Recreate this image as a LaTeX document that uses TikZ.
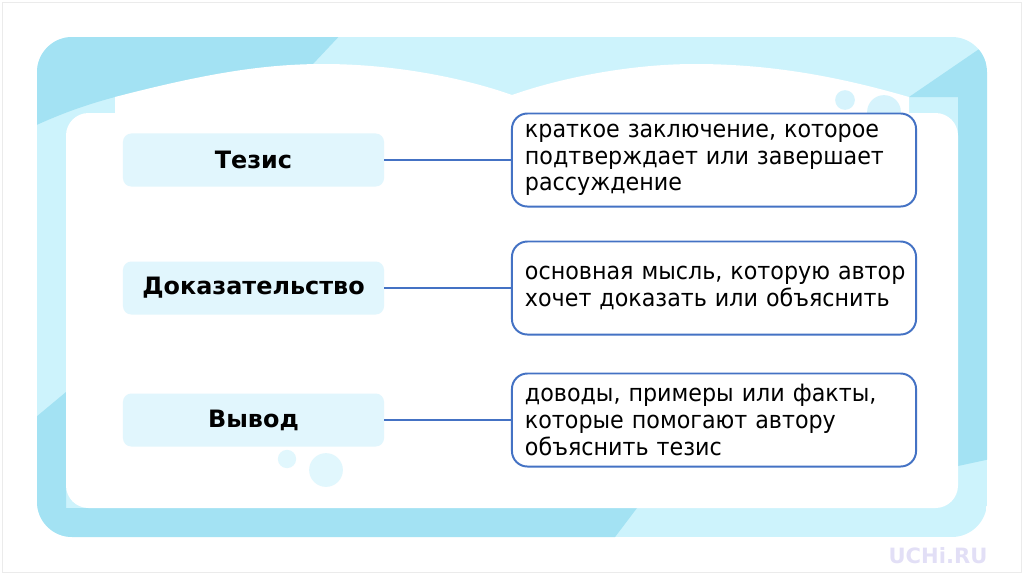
\documentclass[tikz,border=0pt]{standalone}
\usepackage{fontspec}
\setmainfont{DejaVu Sans}
\newfontfamily\uzkiy[FakeStretch=0.93]{DejaVu Sans}
\usetikzlibrary{positioning}
\definecolor{ramka}{RGB}{163,226,243}
\definecolor{ramkasv}{RGB}{205,243,252}
\definecolor{fon}{RGB}{225,246,253}
\definecolor{liniya}{RGB}{68,114,196}
\definecolor{puzyr}{RGB}{214,243,252}
\definecolor{puzyrsv}{RGB}{225,247,253}
\definecolor{znak}{RGB}{226,223,246}
\tikzset{
  term/.style={fill=fon,rounded corners=6pt,minimum width=6.525cm,minimum height=1.325cm,
    font=\bfseries\fontsize{17}{20}\selectfont},
  opis/.style={draw=liniya,line width=1.4pt,fill=white,rounded corners=11pt,
    minimum width=10.1cm,minimum height=2.325cm,text width=9.45cm,inner xsep=0.325cm,
    align=left,font=\uzkiy\fontsize{17}{19}\selectfont},
  svyaz/.style={draw=liniya,line width=1.4pt},
}

\begin{document}
\begin{tikzpicture}[x=0.025cm,y=-0.025cm]
  \useasboundingbox (0,0) rectangle (1024,574);
  \draw[black!8,line width=0.6pt] (2,2) rectangle (1021,572);
  % ramka
  \begin{scope}
    \clip[rounded corners=25pt] (37,37) rectangle (987,537);
    \fill[ramkasv] (37,37) rectangle (987,537);
    \fill[ramka] (30,30) -- (345,30) -- (313,64) -- (313,100) -- (115,100) -- (115,97)
      .. controls (85,105) and (60,114) .. (30,128) -- cycle;
    \fill[ramka] (909,97) -- (985,45) -- (995,45) -- (995,458) -- (958,466) -- (958,97) -- cycle;
    \fill[ramka] (30,422) -- (66,392) -- (66,508) -- (637,508) -- (609,545) -- (30,545) -- cycle;
  \end{scope}
  \fill[white,rounded corners=16pt] (66,113) rectangle (958,508);
  \fill[white] (115,114) -- (115,97) .. controls (200,75) and (260,64) .. (323,64)
    .. controls (400,64) and (470,80) .. (512,95) .. controls (560,78) and (630,64) .. (695,64)
    .. controls (780,64) and (850,80) .. (909,97) -- (909,114) -- cycle;
  \fill[puzyr] (845,100) circle[radius=7pt]; \fill[puzyr] (884,112) circle[radius=12pt];
  \fill[puzyrsv] (287,459) circle[radius=6.5pt]; \fill[puzyrsv] (326,470) circle[radius=12pt];
  % termy
  \node[term] (tez) at (253.5,160) {Тезис};
  \node[term] (dok) at (253.5,288) {Доказательство};
  \node[term] (vyv) at (253.5,420) {Вывод};
  % opisaniya
  \node[opis] (optez) at (714,160) {краткое заключение, которое\\подтверждает или завершает\\рассуждение};
  \node[opis] (opdok) at (714,288) {\mbox{основная мысль, которую автор}\\хочет доказать или объяснить};
  \node[opis] (opvyv) at (714,420) {доводы, примеры или факты,\\которые помогают автору\\объяснить тезис};
  \draw[svyaz] (tez.east) -- (optez.west);
  \draw[svyaz] (dok.east) -- (opdok.west);
  \draw[svyaz] (vyv.east) -- (opvyv.west);
  \node[text=znak,font=\bfseries\fontsize{15}{15}\selectfont] (uchi) at (938,556) {UCHi.RU};
\end{tikzpicture}
\end{document}
